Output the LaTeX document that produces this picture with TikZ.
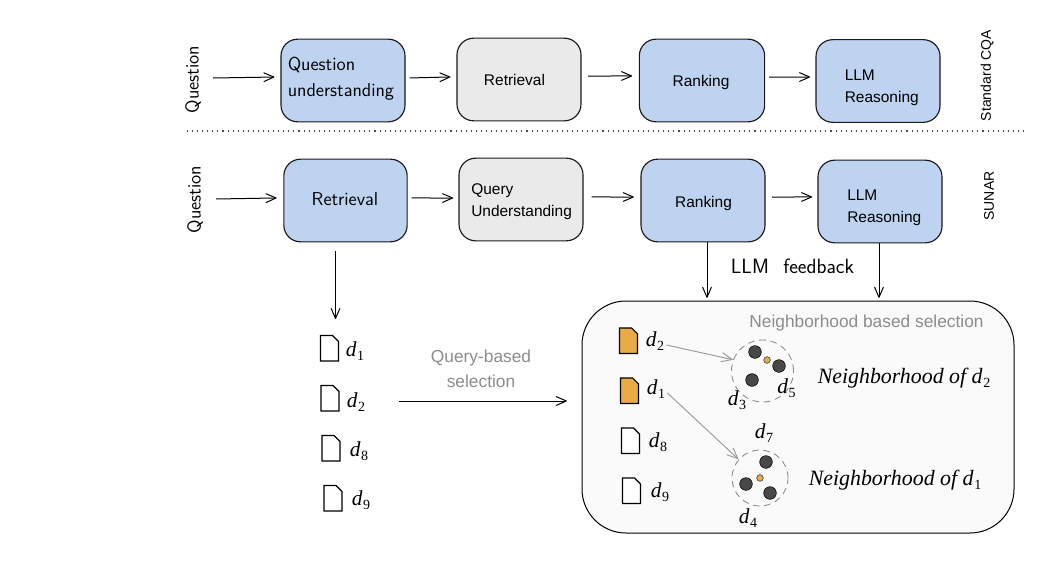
\documentclass[tikz,border=0pt]{standalone}
\usepackage{fontspec}
\setmainfont{Liberation Sans}
\newfontfamily\lmsans{Latin Modern Sans}
\newfontfamily\serifit{Liberation Serif}
\usetikzlibrary{arrows.meta}
\definecolor{boxblue}{HTML}{BDD3F0}
\definecolor{boxgrey}{HTML}{EAEAEA}
\definecolor{docorange}{HTML}{E8AB45}
\definecolor{dotdark}{HTML}{484848}
\definecolor{softgrey}{HTML}{8C8C8C}
\definecolor{panelbg}{HTML}{FAFAFA}
\newcommand{\dl}[1]{{\serifit\itshape d\kern0.5pt\raisebox{-2.8pt}{\upshape\fontsize{10.5}{10.5}\selectfont #1}}}
\newcommand{\docpic}[3]{% x y fill
  \draw[line width=0.8pt,fill=#3,line join=miter] (#1,#2) -- ++(12,0) -- ++(6,6) -- ++(0,19.5) -- ++(-18,0) -- cycle;}
\tikzset{
  flowbox/.style={draw=black!90,line width=0.85pt,rounded corners=12.5pt,minimum width=93pt,minimum height=62pt,inner sep=0pt},
  blue box/.style={flowbox,fill=boxblue},
  grey box/.style={flowbox,fill=boxgrey},
  arialtext/.style={font=\fontsize{11.6}{13}\selectfont,inner sep=0pt},
  lmtext/.style={font=\lmsans\fontsize{14}{16}\selectfont,inner sep=0pt},
  flow/.style={-{Straight Barb[length=7.5pt,width=6.5pt,round]},line width=0.75pt,black},
  pick/.style={-{Straight Barb[length=8pt,width=7pt]},line width=0.7pt,black!40},
  mathlab/.style={font=\fontsize{16}{18}\selectfont,inner sep=0pt},
  neigh/.style={draw=black!45,dash pattern=on 5pt off 3.5pt,line width=0.65pt,circle,inner sep=0pt},
  bigdot/.style={circle,draw=black,line width=0.4pt,fill=dotdark,minimum size=9.5pt,inner sep=0pt},
  smalldot/.style={circle,draw=black!80,line width=0.4pt,fill=docorange,minimum size=5pt,inner sep=0pt},
  greylab/.style={font=\fontsize{13}{15}\selectfont,text=softgrey,inner sep=0pt,align=center},
}
\begin{document}
\begin{tikzpicture}[x=0.75pt,y=-0.75pt]
\useasboundingbox (0,0) rectangle (1048,564);
% row 1
\node[blue box,minimum width=93pt] (qa) at (343,80.5) {};
\node[grey box] (qb) at (519,79.5) {};
\node[blue box,minimum width=94pt] (qc) at (702,80.5) {};
\node[blue box] (qd) at (878,81) {};
% row 2
\node[blue box,minimum width=92.5pt] (ra) at (345.5,200.5) {};
\node[grey box] (rb) at (521,199.5) {};
\node[blue box] (rc) at (703,200.5) {};
\node[blue box] (rd) at (880,201.5) {};
% row 1 text
\node[lmtext,anchor=west] (t1) at (287.5,65) {Question};
\node[lmtext,anchor=west] (t2) at (287.5,91.5) {understanding};
\node[arialtext] (t3) at (514.5,80) {Retrieval};
\node[arialtext] (t4) at (701,82) {Ranking};
\node[arialtext,anchor=west] (t5) at (844.5,75) {LLM};
\node[arialtext,anchor=west] (t6) at (844.5,98.5) {Reasoning};
% row 2 text
\node[lmtext] (t7) at (345,199.5) {Retrieval};
\node[arialtext,anchor=west] (t8) at (471,190.5) {Query};
\node[arialtext,anchor=west] (t9) at (471,212) {Understanding};
\node[arialtext] (t10) at (703.5,203) {Ranking};
\node[arialtext,anchor=west] (t11) at (847,195) {LLM};
\node[arialtext,anchor=west] (t12) at (847,218.5) {Reasoning};
% side labels
\node[lmtext,rotate=90] (q1) at (193,79.5) {Question};
\node[lmtext,rotate=90] (q2) at (195,199.5) {Question};
\node[font=\fontsize{10.5}{12}\selectfont,rotate=90,inner sep=0pt] (s1) at (987,75.5) {Standard CQA};
\node[font=\fontsize{10.5}{12}\selectfont,rotate=90,inner sep=0pt] (s2) at (989,196) {SUNAR};
% separator
\coordinate (sepl) at (187,131);
\coordinate (sepr) at (1026,131);
\draw[line width=0.8pt,black!70,dash pattern=on 0.8pt off 3pt] (sepl) -- (sepr);
% row 1 arrows
\coordinate (qs1) at (213,78);
\coordinate (qs2) at (216,199);
\draw[flow] (qs1) -- ([xshift=-4.5pt,yshift=2.6pt]qa.west);
\draw[flow] ([xshift=3pt,yshift=1.9pt]qa.east) -- ([xshift=-4.5pt,yshift=1.9pt]qb.west);
\draw[flow] ([xshift=5pt,yshift=2.6pt]qb.east) -- ([xshift=-5pt,yshift=3.4pt]qc.west);
\draw[flow] ([xshift=3pt,yshift=2.6pt]qc.east) -- ([xshift=-4pt,yshift=3pt]qd.west);
% row 2 arrows
\draw[flow] (qs2) -- ([xshift=-5pt,yshift=1.9pt]ra.west);
\draw[flow] ([xshift=3pt,yshift=1.9pt]ra.east) -- ([xshift=-4pt,yshift=1.1pt]rb.west);
\draw[flow] ([xshift=6pt,yshift=1.9pt]rb.east) -- ([xshift=-5pt,yshift=2.6pt]rc.west);
\draw[flow] ([xshift=5pt,yshift=2.6pt]rc.east) -- ([xshift=-4pt,yshift=3.4pt]rd.west);
% big panel
\node[draw=black,line width=0.75pt,fill=panelbg,rounded corners=33pt,minimum width=324pt,minimum height=174pt,inner sep=0pt] (panel) at (798,417) {};
\coordinate (dtop) at (335.5,251);
\coordinate (dbot) at (335.5,319);
\draw[flow] (dtop) -- (dbot);
\draw[flow] ([xshift=3pt]rc.south) -- ([xshift=-68.25pt,yshift=2pt]panel.north);
\draw[flow] ([xshift=-0.75pt]rd.south) -- ([xshift=60.75pt,yshift=2pt]panel.north);
\node[lmtext,font=\lmsans\fontsize{15.5}{17}\selectfont] (fb) at (792.5,266.5) {LLM\hspace{6pt} feedback};
% left docs
\docpic{320.5}{335.5}{white}
\docpic{321}{385.5}{white}
\docpic{322}{435.5}{white}
\docpic{324}{485.5}{white}
\node[mathlab] (l1) at (355,351) {\dl{1}};
\node[mathlab] (l2) at (356,402) {\dl{2}};
\node[mathlab] (l3) at (359,451) {\dl{8}};
\node[mathlab] (l4) at (361,500) {\dl{9}};
% query-based
\node[greylab] (qs) at (481,368.5) {Query-based\\[4pt]selection};
\coordinate (qsl) at (399,401);
\draw[flow] (qsl) -- ([xshift=-11pt,yshift=12pt]panel.west);
% panel docs
\docpic{619.5}{328}{docorange}
\docpic{620.5}{378}{docorange}
\docpic{621.5}{428}{white}
\docpic{622.5}{478}{white}
\node[mathlab] (p2) at (655,341) {\dl{2}};
\node[mathlab] (p1) at (656,389) {\dl{1}};
\node[mathlab] (p8) at (658,442) {\dl{8}};
\node[mathlab] (p9) at (660,492) {\dl{9}};
\node[greylab] (nb) at (866.5,323) {Neighborhood based selection};
% neighbourhoods
\node[neigh,minimum size=46.5pt] (n1) at (762.5,371) {};
\node[neigh,minimum size=42pt] (n2) at (760,478) {};
\node[bigdot] (a1) at (755,352) {};
\node[bigdot] (a2) at (779,366) {};
\node[bigdot] (a3) at (752,380) {};
\node[smalldot] (a4) at (767,360) {};
\node[bigdot] (b1) at (766,462) {};
\node[bigdot] (b2) at (746,484) {};
\node[bigdot] (b3) at (770,493) {};
\node[smalldot] (b4) at (760,478) {};
\node[mathlab] (m5) at (786.5,388) {\dl{5}};
\node[mathlab] (m3) at (737,400) {\dl{3}};
\node[mathlab] (m7) at (764,433) {\dl{7}};
\node[mathlab] (m4) at (748,518) {\dl{4}};
\node[mathlab,font=\fontsize{16.4}{18}\selectfont] (h2) at (904,378) {{\serifit\itshape Neighborhood of \dl{2}}};
\node[mathlab,font=\fontsize{16.4}{18}\selectfont] (h1) at (895,480) {{\serifit\itshape Neighborhood of \dl{1}}};
\draw[pick] ([xshift=1.5pt,yshift=-3pt]p2.east) -- (n1.159);
\draw[pick] ([xshift=1.5pt,yshift=-3pt]p1.east) -- (n2.139);
\end{tikzpicture}
\end{document}
